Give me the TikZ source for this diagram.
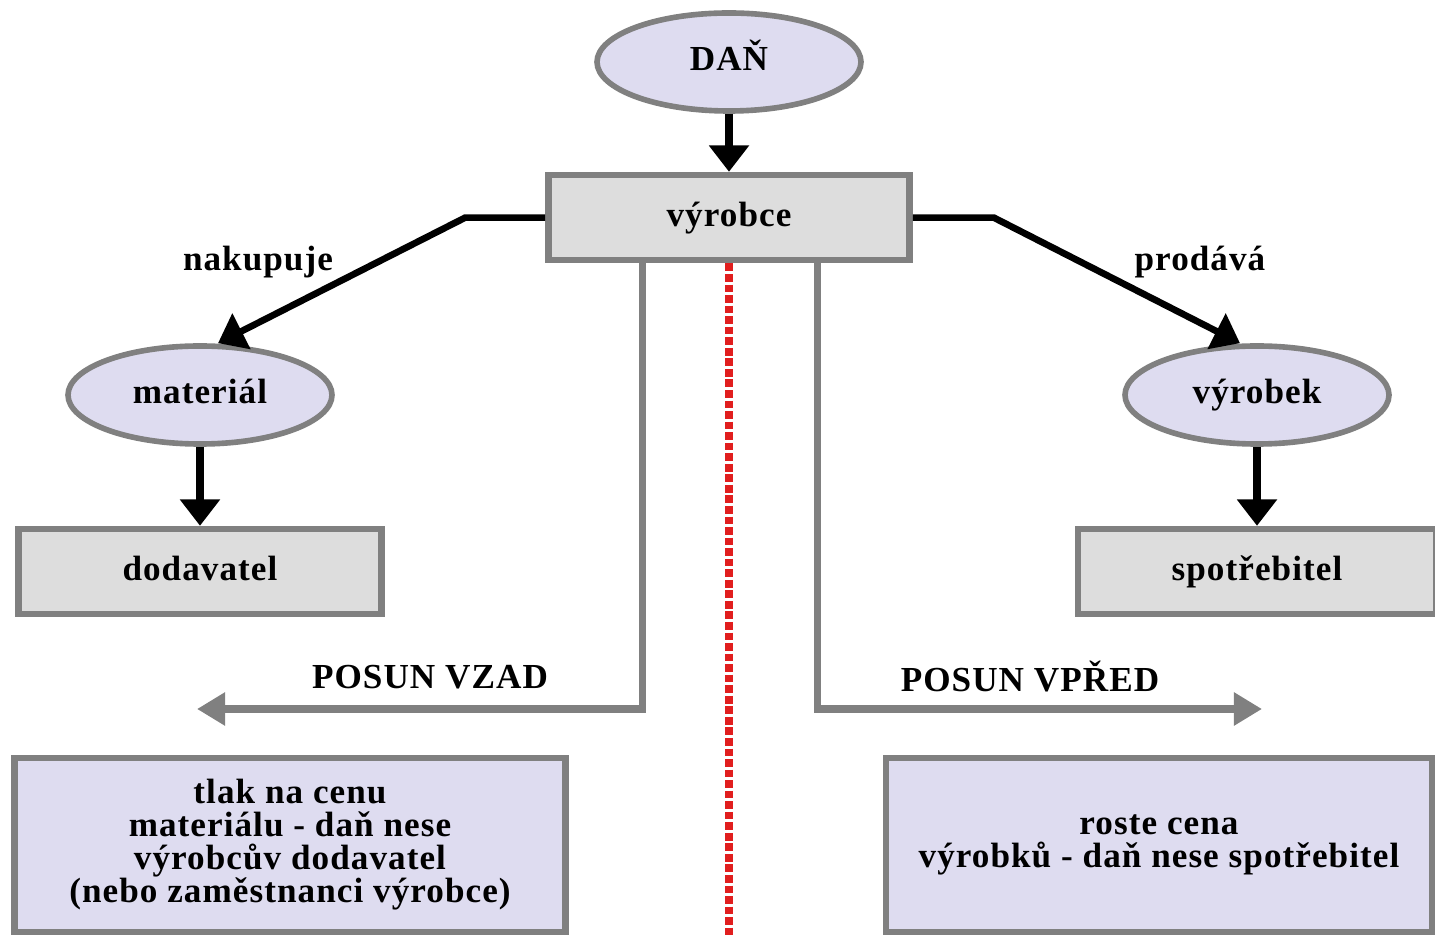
\documentclass[tikz,border=0pt]{standalone}
\usepackage{fontspec}
\setmainfont[LetterSpace=3]{Liberation Serif}
\usepackage{tikz}
\usetikzlibrary{shapes.geometric, positioning, arrows.meta}
\definecolor{ovalfill}{RGB}{222,220,240}
\definecolor{boxfill}{RGB}{221,221,221}
\definecolor{rim}{RGB}{128,128,128}
\definecolor{cutline}{RGB}{225,30,30}
\tikzset{
  oval/.style={
    ellipse,
    draw=rim,
    line width=1.6pt,
    fill=ovalfill,
    minimum width=2.64cm,
    minimum height=0.98cm,
    text height=0.7em,
    text depth=0.2em
  },
  block/.style={
    rectangle,
    draw=rim,
    line width=1.9pt,
    fill=boxfill,
    minimum height=0.85cm,
    text height=0.7em,
    text depth=0.2em
  },
  note/.style={
    rectangle,
    draw=rim,
    line width=1.9pt,
    fill=ovalfill,
    minimum height=1.74cm,
    align=center
  },
  flow/.style={-{Triangle[width=11pt,length=7.5pt]}, line width=2.5pt},
  shiftline/.style={draw=rim, -{Triangle[width=9pt,length=8pt]}, line width=2pt}
}

\begin{document}
\begin{tikzpicture}[font=\fontsize{10}{9.4}\selectfont\bfseries]
        \useasboundingbox (0,0) rectangle (14.35,-9.36);

        % Define the nodes
        \node[oval]  (dan)      at (7.29,-0.62) {DAŇ};
        \node[block, minimum width=3.61cm] (vyrobce) [below=0.58cm of dan] {výrobce};
        \node[oval]  (material) at (2.00,-3.95) {materiál};
        \node[oval]  (vyrobek)  at (12.57,-3.95) {výrobek};
        \node[block, minimum width=3.63cm] (dodavatel)   [below=0.79cm of material] {dodavatel};
        \node[block, minimum width=3.58cm] (spotrebitel) [below=0.79cm of vyrobek] {spotřebitel};

        % results at the bottom
        \node[note, minimum width=5.51cm] (vzad)  at (2.90,-8.45)
          {tlak na cenu\\materiálu - daň nese\\výrobcův dodavatel\\(nebo zaměstnanci výrobce)};
        \node[note, minimum width=5.46cm] (vpred) at (11.59,-8.45)
          {roste cena\\výrobků - daň nese spotřebitel};

        % labels
        \node (nakupuje) at (2.58,-2.62) {nakupuje};
        \node (prodava)  at (12.00,-2.62) {prodává};
        \node (posunvzad)  at (4.30,-6.77) {POSUN VZAD};
        \node (posunvpred) at (10.30,-6.77) {POSUN VPŘED};

        \coordinate (backtip) at (1.97,-7.09);
        \coordinate (fwdtip)  at (12.62,-7.09);
        \coordinate (axisend) at (7.29,-9.36);

        % Arrows
        \draw[flow] (dan) -- (vyrobce);
        \draw[flow] (material) -- (dodavatel);
        \draw[flow] (vyrobek) -- (spotrebitel);
        \draw[flow, line width=1.9pt] (vyrobce.west) -- ++(-0.80,0) -- ([xshift=0.18cm]material.north);
        \draw[flow, line width=1.9pt] (vyrobce.east) -- ++(0.81,0) -- ([xshift=-0.17cm]vyrobek.north);

        % shifting of the tax
        \draw[shiftline] ([xshift=-0.865cm]vyrobce.south) |- (backtip);
        \draw[shiftline] ([xshift=0.885cm]vyrobce.south) |- (fwdtip);
        \draw[cutline, line width=2.1pt, dash pattern=on 2.2pt off 0.8pt] (vyrobce.south) -- (axisend);
    \end{tikzpicture}
\end{document}
